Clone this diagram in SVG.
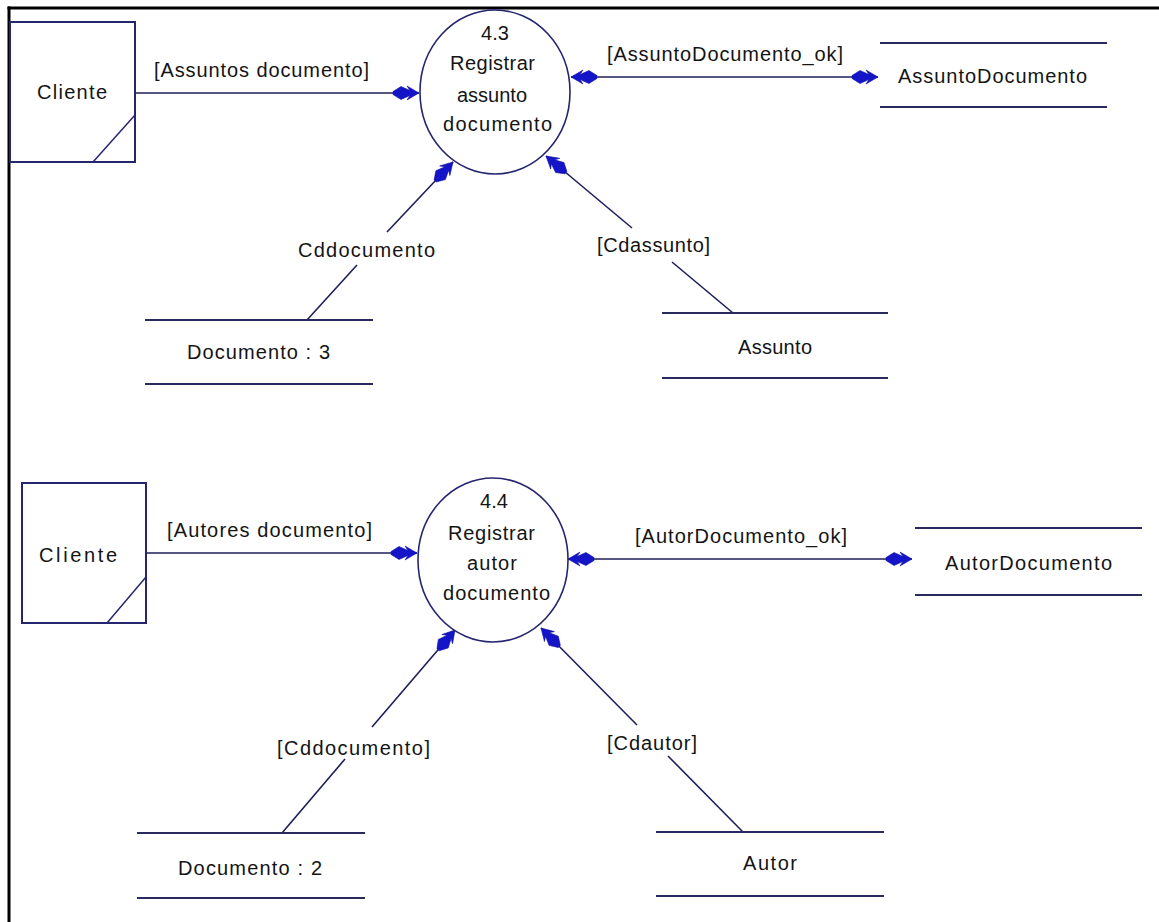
<svg xmlns="http://www.w3.org/2000/svg" width="1159" height="922" viewBox="0 0 1159 922">
  <style>
    .t { font-family: "Liberation Sans", Arial, sans-serif; font-size: 20px; fill: #141414; }
    .m { text-anchor: middle; }
    .frame { stroke: #000; stroke-width: 3; fill: none; }
    .ent { fill: #fff; stroke: #262670; stroke-width: 2; }
    .ent-cut { stroke: #262670; stroke-width: 1.5; fill: none; }
    .proc { fill: #fff; stroke: #262670; stroke-width: 1.6; }
    .store { stroke: #2a2a5e; stroke-width: 2.2; fill: none; }
    .flow { stroke: #1e1e5a; stroke-width: 1.6; fill: none; }
    .flow-end { marker-end: url(#arr); }
    .flow-both { marker-end: url(#arr); marker-start: url(#arr); }
  </style>
  <defs>
    <!-- feathered flow arrowhead, tip at origin pointing along +x -->
    <marker id="arr" markerUnits="userSpaceOnUse" markerWidth="30" markerHeight="18" refX="0" refY="0" orient="auto-start-reverse" overflow="visible">
      <path d="M0,0 L-12,-7 L-9,-2.5 L-18,-6.5 L-26,-1.5 L-26,1.5 L-18,6.5 L-9,2.5 L-12,7 Z" fill="#1414c8" stroke="#1010a0" stroke-width="0.6"/>
    </marker>
  </defs>

  <rect width="1159" height="922" fill="#fff"/>

  <!-- page frame -->
  <g id="frame">
    <line class="frame" x1="7.5" y1="8" x2="1159" y2="8"/>
    <line class="frame" x1="9" y1="6.5" x2="9" y2="922"/>
  </g>

  <!-- data flows -->
  <g id="connectors">
    <!-- process 4.3 -->
    <line class="flow flow-end" x1="135" y1="93" x2="419" y2="93"/>
    <line class="flow flow-both" x1="571" y1="77" x2="878" y2="77"/>
    <line class="flow" x1="307" y1="320" x2="357" y2="265"/>
    <line class="flow flow-end" x1="387" y1="232" x2="453" y2="162"/>
    <line class="flow" x1="733" y1="313" x2="672" y2="262"/>
    <line class="flow flow-end" x1="632" y1="228" x2="546" y2="156"/>

    <!-- process 4.4 -->
    <line class="flow flow-end" x1="146" y1="553" x2="417" y2="553"/>
    <line class="flow flow-both" x1="568" y1="559" x2="912" y2="559"/>
    <line class="flow" x1="282" y1="833" x2="345" y2="759"/>
    <line class="flow flow-end" x1="372" y1="727" x2="455" y2="630"/>
    <line class="flow" x1="743" y1="832" x2="668" y2="756"/>
    <line class="flow flow-end" x1="637" y1="725" x2="541" y2="628"/>
  </g>

  <!-- flow labels -->
  <g id="flow-labels">
    <text class="t" x="154" y="77" textLength="215" lengthAdjust="spacing">[Assuntos documento]</text>
    <text class="t" x="607" y="61" textLength="236" lengthAdjust="spacing">[AssuntoDocumento_ok]</text>
    <text class="t" x="298" y="257" textLength="137" lengthAdjust="spacing">Cddocumento</text>
    <text class="t" x="597" y="252" textLength="113" lengthAdjust="spacing">[Cdassunto]</text>
    <text class="t" x="167" y="537" textLength="205" lengthAdjust="spacing">[Autores documento]</text>
    <text class="t" x="635" y="543" textLength="212" lengthAdjust="spacing">[AutorDocumento_ok]</text>
    <text class="t" x="277" y="755" textLength="153" lengthAdjust="spacing">[Cddocumento]</text>
    <text class="t" x="607" y="750" textLength="90" lengthAdjust="spacing">[Cdautor]</text>
  </g>

  <!-- external entity: Cliente (4.3) -->
  <g id="cliente-1">
    <rect class="ent" x="10" y="22" width="125" height="140"/>
    <line class="ent-cut" x1="93" y1="162" x2="135" y2="115"/>
    <text class="t" x="37" y="99" textLength="70" lengthAdjust="spacing">Cliente</text>
  </g>

  <!-- process 4.3 -->
  <g id="proc-4-3">
    <ellipse class="proc" cx="495" cy="92" rx="75" ry="82"/>
    <text class="t m" x="495" y="40">4.3</text>
    <text class="t" x="450" y="70" textLength="85" lengthAdjust="spacing">Registrar</text>
    <text class="t" x="457" y="102" textLength="70" lengthAdjust="spacing">assunto</text>
    <text class="t" x="443" y="131" textLength="109" lengthAdjust="spacing">documento</text>
  </g>

  <!-- data store: AssuntoDocumento -->
  <g id="store-assuntodocumento">
    <line class="store" x1="880" y1="43" x2="1107" y2="43"/>
    <line class="store" x1="880" y1="107" x2="1107" y2="107"/>
    <text class="t" x="898" y="83" textLength="189" lengthAdjust="spacing">AssuntoDocumento</text>
  </g>

  <!-- data store: Documento : 3 -->
  <g id="store-documento-3">
    <line class="store" x1="145" y1="320" x2="373" y2="320"/>
    <line class="store" x1="145" y1="384" x2="373" y2="384"/>
    <text class="t" x="187" y="359" textLength="143" lengthAdjust="spacing">Documento : 3</text>
  </g>

  <!-- data store: Assunto -->
  <g id="store-assunto">
    <line class="store" x1="662" y1="313" x2="888" y2="313"/>
    <line class="store" x1="662" y1="378" x2="888" y2="378"/>
    <text class="t" x="738" y="354" textLength="74" lengthAdjust="spacing">Assunto</text>
  </g>

  <!-- external entity: Cliente (4.4) -->
  <g id="cliente-2">
    <rect class="ent" x="22" y="483" width="124" height="140"/>
    <line class="ent-cut" x1="107" y1="623" x2="146" y2="577"/>
    <text class="t" x="39" y="562" textLength="78" lengthAdjust="spacing">Cliente</text>
  </g>

  <!-- process 4.4 -->
  <g id="proc-4-4">
    <ellipse class="proc" cx="493" cy="560" rx="75" ry="82"/>
    <text class="t m" x="494" y="508">4.4</text>
    <text class="t" x="448" y="540" textLength="87" lengthAdjust="spacing">Registrar</text>
    <text class="t" x="467" y="570" textLength="50" lengthAdjust="spacing">autor</text>
    <text class="t" x="443" y="600" textLength="107" lengthAdjust="spacing">documento</text>
  </g>

  <!-- data store: AutorDocumento -->
  <g id="store-autordocumento">
    <line class="store" x1="915" y1="528" x2="1142" y2="528"/>
    <line class="store" x1="915" y1="595" x2="1142" y2="595"/>
    <text class="t" x="945" y="570" textLength="167" lengthAdjust="spacing">AutorDocumento</text>
  </g>

  <!-- data store: Documento : 2 -->
  <g id="store-documento-2">
    <line class="store" x1="137" y1="833" x2="365" y2="833"/>
    <line class="store" x1="137" y1="898" x2="365" y2="898"/>
    <text class="t" x="178" y="875" textLength="144" lengthAdjust="spacing">Documento : 2</text>
  </g>

  <!-- data store: Autor -->
  <g id="store-autor">
    <line class="store" x1="656" y1="832" x2="884" y2="832"/>
    <line class="store" x1="656" y1="896" x2="884" y2="896"/>
    <text class="t" x="743" y="870" textLength="54" lengthAdjust="spacing">Autor</text>
  </g>
</svg>
